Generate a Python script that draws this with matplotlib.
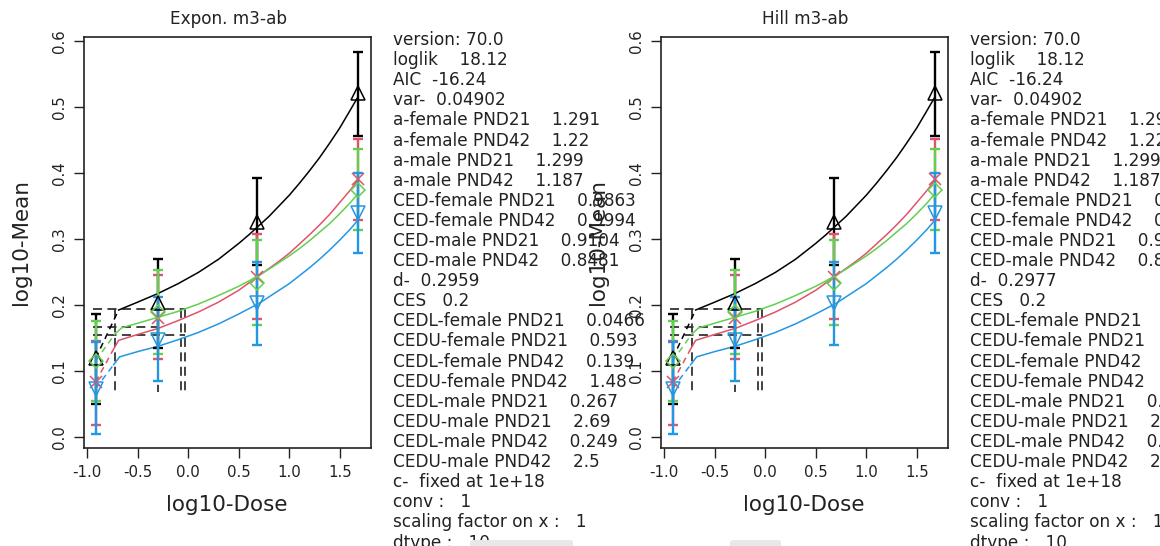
import matplotlib.pyplot as plt
from matplotlib.patches import FancyBboxPatch

W, H = 1160, 546

# log10-dose positions of the four dose groups
dose = [-0.917, -0.305, 0.677, 1.680]

groups = ['female PND21', 'female PND42', 'male PND21', 'male PND42']
colors = ['black', '#DF536B', '#61D04F', '#2297E6']
markers = ['^', 'x', 'D', 'v']
msizes = [9.5, 8, 7.5, 9.5]

# log10 of the group means with the limits of their bars
means = [
    [0.119, 0.2025, 0.326, 0.521],
    [0.083, 0.180, 0.2425, 0.390],
    [0.115, 0.189, 0.2335, 0.374],
    [0.073, 0.147, 0.202, 0.339],
]
lower = [
    [0.050, 0.135, 0.260, 0.456],
    [0.017, 0.117, 0.178, 0.328],
    [0.054, 0.126, 0.169, 0.313],
    [0.004, 0.084, 0.139, 0.279],
]
upper = [
    [0.186, 0.270, 0.392, 0.583],
    [0.145, 0.2445, 0.307, 0.4515],
    [0.176, 0.2526, 0.298, 0.4355],
    [0.143, 0.211, 0.265, 0.399],
]

# fitted curves, one per subgroup
grid = [-0.5, -0.3, -0.1, 0.1, 0.3, 0.5, 0.6, 0.7, 0.8, 0.9, 1.0,
        1.1, 1.2, 1.3, 1.4, 1.5, 1.6, 1.68]
fit_x = [
    [-0.69] + grid,
    [-0.75, -0.69] + grid,
    [-0.73, -0.66] + grid,
    [-0.74, -0.68] + grid,
]
fit_y = [
    [0.192, 0.204, 0.217, 0.232, 0.249, 0.269, 0.293, 0.306, 0.320, 0.334,
     0.350, 0.366, 0.384, 0.403, 0.423, 0.445, 0.468, 0.494, 0.515],
    [0.130, 0.146, 0.155, 0.164, 0.176, 0.189, 0.204, 0.222, 0.233, 0.244,
     0.255, 0.266, 0.278, 0.292, 0.306, 0.321, 0.337, 0.355, 0.373, 0.389],
    [0.155, 0.165, 0.172, 0.181, 0.190, 0.201, 0.214, 0.228, 0.236, 0.245,
     0.254, 0.264, 0.274, 0.285, 0.297, 0.310, 0.323, 0.338, 0.354, 0.368],
    [0.109, 0.121, 0.129, 0.137, 0.147, 0.158, 0.171, 0.186, 0.194, 0.202,
     0.212, 0.222, 0.232, 0.244, 0.256, 0.269, 0.283, 0.298, 0.314, 0.328],
]

# CES / CED guide lines
ces_levels = [0.194, 0.166, 0.154]
ces_ends = [-0.035, -0.29, -0.035]
ced_x = [-0.725, -0.30, -0.07, -0.035]
ced_top = [0.194, 0.166, 0.194, 0.194]
ced_bottom = 0.068

titles = ['Expon. m3-ab', 'Hill m3-ab']
d_values = ['0.2959', '0.2977']


def info_lines(d_val):
    return [
        'version: 70.0',
        'loglik    18.12',
        'AIC  -16.24',
        'var-  0.04902',
        'a-female PND21    1.291',
        'a-female PND42    1.22',
        'a-male PND21    1.299',
        'a-male PND42    1.187',
        'CED-female PND21    0.9863',
        'CED-female PND42    0.9994',
        'CED-male PND21    0.9104',
        'CED-male PND42    0.8481',
        'd-  ' + d_val,
        'CES   0.2',
        'CEDL-female PND21    0.0466',
        'CEDU-female PND21    0.593',
        'CEDL-female PND42    0.139',
        'CEDU-female PND42    1.48',
        'CEDL-male PND21    0.267',
        'CEDU-male PND21    2.69',
        'CEDL-male PND42    0.249',
        'CEDU-male PND42    2.5',
        'c-  fixed at 1e+18',
        'conv :   1',
        'scaling factor on x :   1',
        'dtype :   10',
    ]


fig = plt.figure(figsize=(W / 100, H / 100), dpi=100)


def fx(px):
    return px / W


def fy(py):
    return 1 - py / H


for k, title in enumerate(titles):
    dx = 577 * k
    ax = fig.add_axes([fx(84 + dx), fy(448.3), 287 / W, (448.3 - 36.5) / H])
    ax.set_xlim(-1.033, 1.809)
    ax.set_ylim(-0.0176, 0.6065)

    # CES lines
    for lev, end in zip(ces_levels, ces_ends):
        ax.plot([-0.94, end], [lev, lev], color='#333333', lw=1.3,
                linestyle=(0, (5, 3)), zorder=1)
    for xv, top in zip(ced_x, ced_top):
        ax.plot([xv, xv], [top, ced_bottom], color='#333333', lw=1.3,
                linestyle=(0, (5, 3)), zorder=1)

    for g in range(len(groups)):
        c = colors[g]
        yerr = [[m - lo for m, lo in zip(means[g], lower[g])],
                [hi - m for m, hi in zip(means[g], upper[g])]]
        ax.errorbar(dose, means[g], yerr=yerr, fmt='none', ecolor=c,
                    elinewidth=1.7, capsize=3.8, capthick=1.7, zorder=3)
        ax.plot(dose, means[g], linestyle='none', marker=markers[g],
                markersize=msizes[g], markerfacecolor='none',
                markeredgecolor=c, markeredgewidth=1.1, zorder=4)
        # fitted curve, dashed link from the controls
        ax.plot([dose[0], fit_x[g][0]], [means[g][0], fit_y[g][0]],
                color=c, lw=1.1, linestyle=(0, (4, 3)), zorder=2)
        ax.plot(fit_x[g], fit_y[g], color=c, lw=1.1, zorder=2)

    ax.set_xticks([-1.0, -0.5, 0.0, 0.5, 1.0, 1.5])
    ax.set_xticklabels(['-1.0', '-0.5', '0.0', '0.5', '1.0', '1.5'])
    ax.set_yticks([0.0, 0.1, 0.2, 0.3, 0.4, 0.5, 0.6])
    ax.set_yticklabels(['0.0', '0.1', '0.2', '0.3', '0.4', '0.5', '0.6'],
                       rotation=90, va='center')
    ax.tick_params(direction='out', length=7, width=1, labelsize=10.8,
                   colors='#222222', pad=5)
    for s in ax.spines.values():
        s.set_linewidth(1.2)
        s.set_color('#222222')

    fig.text(fx(228.5 + dx), fy(19), title, ha='center', va='center',
             fontsize=12.2, color='#222222')
    fig.text(fx(227 + dx), fy(505), 'log10-Dose', ha='center', va='center',
             fontsize=15.5, color='#222222')
    fig.text(fx(21 + dx), fy(242), 'log10-Mean', ha='center', va='center',
             rotation=90, fontsize=15.5, color='#222222')

    for i, line in enumerate(info_lines(d_values[k])):
        fig.text(fx(393 + dx), fy(40 + 20.1 * i), line, ha='left', va='center',
                 fontsize=12.2, color='#222222')

# light grey strips along the lower edge
for x0, x1 in [(470, 573), (730, 781)]:
    fig.patches.append(FancyBboxPatch((fx(x0), fy(548)), (x1 - x0) / W, 8 / H,
                                      boxstyle='round,pad=0,rounding_size=0.004',
                                      transform=fig.transFigure,
                                      facecolor='#e8e8e8', edgecolor='none',
                                      zorder=5))

fig.savefig('out.png', dpi=100)
